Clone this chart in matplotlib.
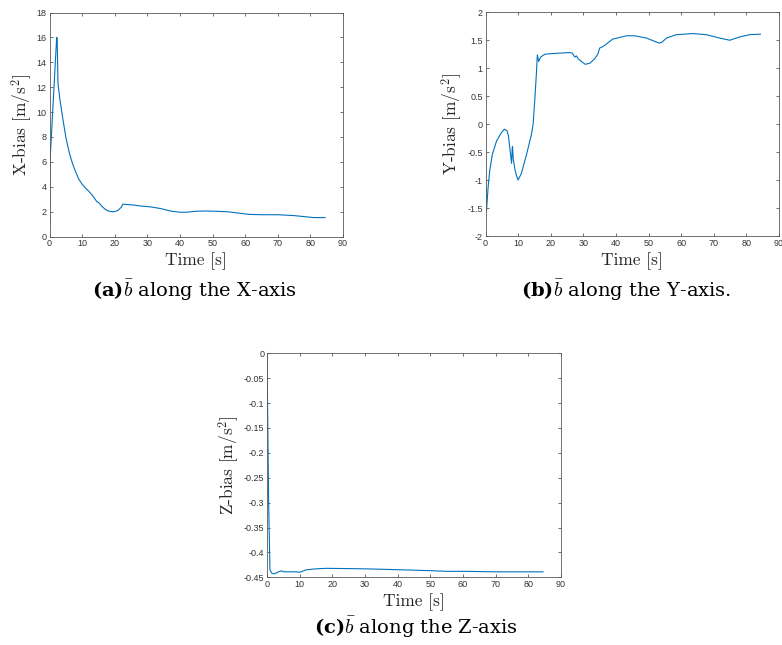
import matplotlib
matplotlib.use("Agg")
import matplotlib.pyplot as plt

plt.rcParams["mathtext.fontset"] = "custom"
plt.rcParams["mathtext.rm"] = "cmr10"
plt.rcParams["mathtext.it"] = "cmmi10"
plt.rcParams["mathtext.bf"] = "DejaVu Serif:bold"
plt.rcParams["mathtext.fallback"] = "cm"
plt.rcParams["axes.unicode_minus"] = False

# bias along X
xa_t = [0, 0.15, 2.2, 2.35, 2.6, 3.2, 4.0, 5.0, 6.0, 7.0, 8.0, 9.0, 10.0, 11.0, 12.0, 13.0,
        14.0, 14.5, 15.0, 16.0, 17.0, 18.0, 19.0, 20.0, 21.0, 22.0, 22.5, 23.0, 25.0, 28.0,
        31.0, 34.0, 37.0, 40.0, 42.0, 45.0, 48.0, 52.0, 55.0, 58.0, 61.0, 65.0, 70.0, 75.0,
        78.0, 81.0, 84.5]
xa_v = [0, 6.0, 16.0, 15.9, 12.3, 11.0, 9.6, 8.0, 6.8, 5.9, 5.2, 4.6, 4.2, 3.9, 3.65, 3.35,
        3.0, 2.8, 2.75, 2.45, 2.2, 2.05, 2.0, 2.0, 2.1, 2.35, 2.6, 2.58, 2.55, 2.45,
        2.38, 2.25, 2.05, 1.95, 1.95, 2.03, 2.05, 2.02, 1.98, 1.88, 1.78, 1.75, 1.75, 1.68,
        1.6, 1.52, 1.52]

# bias along Y
yb_t = [0, 0.05, 0.3, 0.8, 1.3, 2.1, 3.4, 4.9, 5.8, 6.6, 7.0, 7.5, 8.0, 8.2, 8.3, 8.5, 9.0,
        9.5, 10.0, 11.0, 12.6, 14.1, 14.6, 15.1, 15.6, 15.9, 16.3, 16.9, 18.2, 20.0, 22.8,
        25.8, 26.6, 27.4, 27.9, 28.4, 29.4, 30.6, 32.0, 33.5, 34.5, 35.0, 36.1, 39.0, 43.2,
        45.8, 49.3, 51.9, 53.2, 54.0, 55.5, 58.5, 63.6, 67.7, 71.8, 74.9, 78.0, 81.0, 84.3]
yb_v = [0, -1.0, -1.55, -1.13, -0.83, -0.54, -0.3, -0.15, -0.09, -0.12, -0.2, -0.45, -0.7,
        -0.42, -0.4, -0.62, -0.8, -0.92, -1.0, -0.88, -0.54, -0.18, 0.0, 0.42, 0.9, 1.24,
        1.12, 1.2, 1.25, 1.26, 1.27, 1.28, 1.27, 1.2, 1.22, 1.17, 1.12, 1.07, 1.09, 1.17,
        1.26, 1.36, 1.39, 1.52, 1.58, 1.58, 1.54, 1.48, 1.45, 1.46, 1.54, 1.6, 1.62, 1.6,
        1.54, 1.5, 1.56, 1.6, 1.61]

# bias along Z
zc_t = [0, 0.5, 0.9, 1.5, 2.3, 3.5, 4.5, 5.0, 7.0, 9.0, 10.0, 12.0, 15.0, 18.0, 25.0, 30.0,
        40.0, 50.0, 55.0, 60.0, 70.0, 84.5]
zc_v = [0, -0.3, -0.435, -0.442, -0.443, -0.439, -0.437, -0.439, -0.439, -0.439, -0.44,
        -0.435, -0.433, -0.432, -0.4325, -0.433, -0.4347, -0.4367, -0.438, -0.438, -0.439,
        -0.439]

x_ticks = [0, 10, 20, 30, 40, 50, 60, 70, 80, 90]
xa_ticks = [0, 2, 4, 6, 8, 10, 12, 14, 16, 18]
yb_ticks = [-2, -1.5, -1, -0.5, 0, 0.5, 1, 1.5, 2]
zc_ticks = [-0.45, -0.4, -0.35, -0.3, -0.25, -0.2, -0.15, -0.1, -0.05, 0]

W, H = 782, 645
fig = plt.figure(figsize=(W / 100, H / 100), dpi=100)


def make_axes(left, top, right, bottom):
    return fig.add_axes([left / W, 1 - bottom / H, (right - left) / W, (bottom - top) / H])


def style(ax, t, v, yticks, ylim, ylabel):
    ax.plot(t, v, color="#0072BD", lw=0.8)
    ax.set_xlim(0, 90)
    ax.set_ylim(*ylim)
    ax.set_xticks(x_ticks)
    ax.set_yticks(yticks)
    ax.set_yticklabels([f"{y:g}" for y in yticks])
    ax.tick_params(direction="in", length=2.5, width=0.5, labelsize=6.5, colors="0.2",
                   top=True, right=True, pad=2)
    for lab in ax.get_xticklabels() + ax.get_yticklabels():
        lab.set_fontfamily("Liberation Sans")
    for s in ax.spines.values():
        s.set_color("0.35")
        s.set_linewidth(0.6)
    ax.set_xlabel("Time [s]", fontfamily="cmr10", fontsize=12.5, color="0.15", labelpad=3)
    ax.set_ylabel(ylabel, fontfamily="cmr10", fontsize=12.5, color="0.15", labelpad=2)


ax1 = make_axes(49.5, 12.5, 343, 236.5)
style(ax1, xa_t, xa_v, xa_ticks, (0, 18), "X-bias [m/s$^2$]")
ax2 = make_axes(485.5, 12.3, 779, 236)
style(ax2, yb_t, yb_v, yb_ticks, (-2, 2), "Y-bias [m/s$^2$]")
ax3 = make_axes(267, 353.3, 561, 577.3)
style(ax3, zc_t, zc_v, zc_ticks, (-0.45, 0), "Z-bias [m/s$^2$]")

cap_kw = dict(ha="center", va="center", fontsize=14, fontfamily="DejaVu Serif")
fig.text(194 / W, 1 - 290 / H, r"$\mathbf{(a)}\bar{b}$ along the X-axis", **cap_kw)
fig.text(626 / W, 1 - 290 / H, r"$\mathbf{(b)}\bar{b}$ along the Y-axis.", **cap_kw)
fig.text(416 / W, 1 - 627 / H, r"$\mathbf{(c)}\bar{b}$ along the Z-axis", **cap_kw)

fig.savefig("out.png", dpi=100)
